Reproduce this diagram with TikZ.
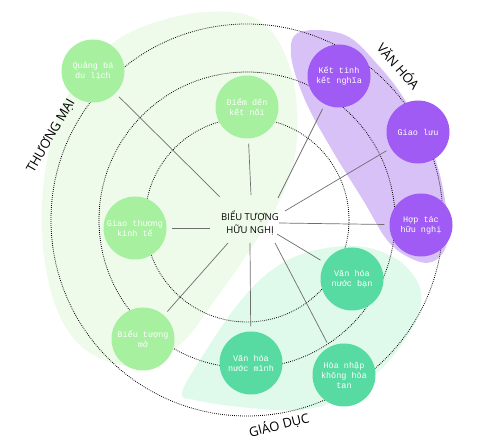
\documentclass[tikz,border=0pt]{standalone}
\usepackage{fontspec}
\setmainfont{Open Sans}
\newfontfamily\nodemono{Liberation Mono}
\definecolor{bgGreen}{HTML}{EEFBEA}
\definecolor{bgMint}{HTML}{DFF9EA}
\definecolor{bgPurple}{HTML}{D8C1F7}
\definecolor{nGreen}{HTML}{A7F0A0}
\definecolor{nMint}{HTML}{58DBA2}
\definecolor{nPurple}{HTML}{A05BF4}
\definecolor{spokeGray}{HTML}{6E6E6E}
\begin{document}
\begin{tikzpicture}[x=1pt,y=-1pt,
  bubble/.style={circle, minimum size=63pt, inner sep=0pt, text=white, align=center,
    font=\nodemono\fontsize{8.5}{10}\selectfont},
  greenb/.style={bubble, fill=nGreen},
  mintb/.style={bubble, fill=nMint},
  purpleb/.style={bubble, fill=nPurple},
  ring/.style={draw=black, line width=0.8pt, dash pattern=on 0.8pt off 1.2pt},
  spoke/.style={draw=spokeGray, line width=0.7pt, shorten >=5pt},
  zone/.style={font=\fontsize{13}{15}\selectfont, text=black, inner sep=0pt},
  hubtext/.style={font=\fontsize{9.5}{13.5}\selectfont, align=center, inner sep=0pt}
]
\useasboundingbox (0,0) rectangle (480,446);
% background zones
\fill[bgGreen] plot[smooth cycle, tension=0.65] coordinates {
  (230,12) (266,26) (288,62) (297,110) (294,160) (279,202) (250,250) (215,300)
  (185,340) (150,365) (110,362) (75,340) (52,295) (42,230) (47,160) (65,100)
  (110,45) (170,18)};
\fill[bgMint] plot[smooth cycle, tension=0.6] coordinates {
  (182,393) (200,360) (235,308) (268,273) (305,253) (355,246) (395,258)
  (418,283) (420,310) (405,340) (380,370) (345,397) (300,410) (240,407) (195,400)};
\fill[bgPurple] plot[smooth cycle, tension=0.6] coordinates {
  (300,32) (345,35) (378,65) (405,100) (432,150) (445,200) (447,243) (432,262)
  (410,258) (387,240) (363,200) (332,150) (305,100) (291,55)};
% rings
\coordinate (hub) at (247,220);
\draw[ring] (hub) circle (102);
\draw[ring] (hub) circle (148);
\draw[ring] (hub) circle (196);
% inner ends of spokes
\coordinate (s1) at (220,197);
\coordinate (s2) at (251,195);
\coordinate (s3) at (278,198);
\coordinate (s4) at (285,211);
\coordinate (s5) at (279,223);
\coordinate (s6) at (277,234);
\coordinate (s7) at (275,243);
\coordinate (s8) at (250,243);
\coordinate (s9) at (228,243);
\coordinate (s10) at (210,228);
% nodes
\node[greenb] (qb) at (93,71) {Quảng bá\\du lịch};
\node[greenb] (dd) at (247,107) {Điểm đến\\kết nối};
\node[greenb] (gt) at (135,228) {Giao thương\\kinh tế};
\node[greenb] (bt) at (143,339) {Biểu tượng\\mở};
\node[mintb] (vm) at (251,363) {Văn hóa\\nước mình};
\node[mintb] (vb) at (352,279) {Văn hóa\\nước bạn};
\node[mintb] (hn) at (344,375) {Hòa nhập\\không hòa\\tan};
\node[purpleb] (kt) at (339,76) {Kết tinh\\kết nghĩa};
\node[purpleb] (gl) at (418,132) {Giao lưu};
\node[purpleb] (ht) at (421,225) {Hợp tác\\hữu nghị};
% spokes
\draw[spoke] (s1) -- (qb);
\draw[spoke] (s2) -- (dd);
\draw[spoke] (s3) -- (kt);
\draw[spoke] (s4) -- (gl);
\draw[spoke] (s5) -- (ht);
\draw[spoke] (s6) -- (vb);
\draw[spoke] (s7) -- (hn);
\draw[spoke] (s8) -- (vm);
\draw[spoke] (s9) -- (bt);
\draw[spoke] (s10) -- (gt);
% hub text
\node[hubtext] (center) at (250,223) {BIỂU TƯỢNG\\HỮU NGHỊ};
% zone labels
\node[zone, rotate=60] (lbl1) at (51,136) {THƯƠNG MẠI};
\node[zone, rotate=-49] (lbl2) at (399,66) {VĂN HÓA};
\node[zone, rotate=14] (lbl3) at (279,425) {GIÁO DỤC};
\end{tikzpicture}
\end{document}
